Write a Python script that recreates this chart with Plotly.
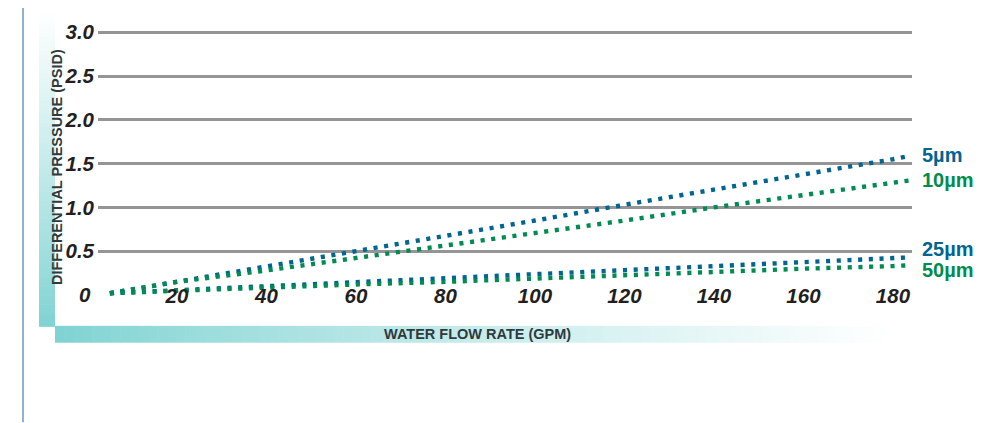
import plotly.graph_objects as go

# ---------------- data ----------------
flow = [5, 20, 40, 60, 80, 100, 120, 140, 160, 180, 184]
dp_5um = [0.02, 0.15, 0.33, 0.50, 0.68, 0.85, 1.03, 1.20, 1.38, 1.55, 1.59]
dp_10um = [0.02, 0.15, 0.28, 0.42, 0.56, 0.71, 0.85, 1.00, 1.14, 1.29, 1.31]
dp_25um = [0.02, 0.055, 0.10, 0.15, 0.19, 0.24, 0.28, 0.33, 0.38, 0.42, 0.43]
dp_50um = [0.02, 0.05, 0.08, 0.12, 0.15, 0.19, 0.23, 0.26, 0.30, 0.33, 0.34]
series_names = ["5µm", "10µm", "25µm", "50µm"]

y_tickvals = [0, 0.5, 1.0, 1.5, 2.0, 2.5, 3.0]
y_ticktext = ["0", "0.5", "1.0", "1.5", "2.0", "2.5", "3.0"]
x_tickvals = [20, 40, 60, 80, 100, 120, 140, 160, 180]
x_ticktext = ["20", "40", "60", "80", "100", "120", "140", "160", "180"]

x_title = "WATER FLOW RATE (GPM)"
y_title = "DIFFERENTIAL PRESSURE (PSID)"

# ---------------- styling ----------------
# the page body adds an 8px margin, so the figure is 8px smaller and
# positions below are given in window pixels
OFF = 8
W, H = 981 - OFF, 423 - OFF
L, R, T, B = 98 - OFF, 69, 25 - OFF, 118
BLUE = "#006592"
GREEN = "#008c50"
TEAL = (126, 210, 210)

def pxx(px):
    return (px - OFF - L) / (W - L - R)

def pyy(py):
    return (H - B - (py - OFF)) / (H - T - B)

colors = [BLUE, GREEN, BLUE, GREEN]
data = [dp_5um, dp_10um, dp_25um, dp_50um]
label_shift = [1, 0, 8, -5]

fig = go.Figure()
for name, ys, c in zip(series_names, data, colors):
    fig.add_trace(go.Scatter(
        x=flow, y=ys, mode="lines", name=name,
        line=dict(color=c, width=4.4, dash="4.1px,6.6px"),
        cliponaxis=False, showlegend=False, hoverinfo="skip",
    ))

shapes = []
# vertical page rule
shapes.append(dict(type="line", xref="paper", yref="paper",
                   x0=pxx(23), x1=pxx(23), y0=pyy(0), y1=pyy(423),
                   line=dict(color="#8cb5c9", width=2), layer="below"))

def mix(t):
    r = int(round(TEAL[0] + (255 - TEAL[0]) * t))
    g = int(round(TEAL[1] + (255 - TEAL[1]) * t))
    b = int(round(TEAL[2] + (255 - TEAL[2]) * t))
    return f"rgb({r},{g},{b})"

# horizontal gradient bar (x title band)
N = 90
x0, x1 = 55, 892
for i in range(N):
    a = x0 + (x1 - x0) * i / N
    b = x0 + (x1 - x0) * (i + 1) / N + 0.6
    t = (i + 0.5) / N
    shapes.append(dict(type="rect", xref="paper", yref="paper",
                       x0=pxx(a), x1=pxx(min(b, x1)), y0=pyy(343), y1=pyy(326),
                       fillcolor=mix(t ** 0.85), line=dict(width=0), layer="below"))
# vertical gradient bar (y title band)
M = 70
ya, yb = 8, 327
for i in range(M):
    top = ya + (yb - ya) * i / M
    bot = ya + (yb - ya) * (i + 1) / M + 0.6
    t = 1 - (i + 0.5) / M
    shapes.append(dict(type="rect", xref="paper", yref="paper",
                       x0=pxx(39), x1=pxx(55), y0=pyy(min(bot, yb)), y1=pyy(top),
                       fillcolor=mix(t ** 0.9), line=dict(width=0), layer="below"))

title_font = dict(family="Liberation Sans", size=14.5, color="#2f3a3d", weight="bold")
annotations = []
annotations.append(dict(text=y_title, xref="paper", yref="paper",
                        x=pxx(47), y=pyy(166), textangle=-90, showarrow=False,
                        font=title_font))
annotations.append(dict(text=x_title, xref="paper", yref="paper",
                        x=pxx(477), y=pyy(335), yshift=-9, showarrow=False,
                        font=title_font))
for name, ys, c, s in zip(series_names, data, colors, label_shift):
    annotations.append(dict(text=name, x=flow[-1], y=ys[-1], xref="x", yref="y",
                            xanchor="left", yanchor="middle", showarrow=False,
                            xshift=9, yshift=s,
                            font=dict(family="Liberation Sans", size=20, color=c, weight="bold")))

tick_font = dict(family="Liberation Sans", size=20.5, color="#231f20", weight="bold", style="italic")

fig.update_layout(
    width=W, height=H,
    margin=dict(l=L, r=R, t=T, b=B, pad=0),
    paper_bgcolor="white", plot_bgcolor="white",
    shapes=shapes, annotations=annotations,
    xaxis=dict(range=[2.35, 184.25], showgrid=False, zeroline=False, showline=False,
               tickmode="array", tickvals=x_tickvals, ticktext=x_ticktext,
               ticks="", tickfont=tick_font, anchor="free", position=pyy(281)),
    yaxis=dict(range=[-0.1145, 3.0601], showgrid=True, gridcolor="#959595", gridwidth=2.6,
               zeroline=False, showline=False,
               tickmode="array", tickvals=y_tickvals[1:], ticktext=y_ticktext[1:],
               ticks="", tickfont=tick_font, ticklabelstandoff=3),
)
# y "0" label shares the baseline row
fig.add_annotation(text=y_ticktext[0], xref="paper", yref="y", x=pxx(93), y=y_tickvals[0],
                   xanchor="right", yanchor="middle", showarrow=False, font=tick_font)

fig.write_html("out.html")
